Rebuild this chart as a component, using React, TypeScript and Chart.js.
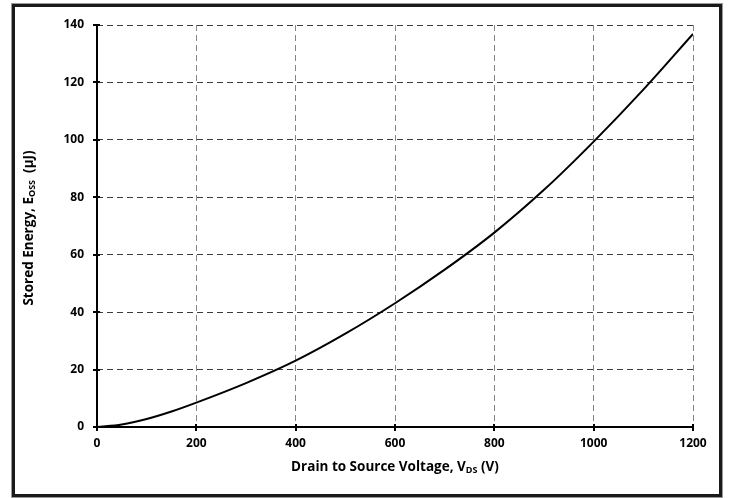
import React, { useEffect, useRef } from "react";
import { Chart, registerables } from "chart.js";

Chart.register(...registerables);

const voltages = [0, 50, 100, 150, 200, 300, 400, 500, 600, 700, 800, 900, 1000, 1100, 1200];
const energies = [0, 0.9, 2.8, 5.4, 8.5, 15.3, 23.1, 32.5, 43.1, 54.8, 67.7, 82.6, 99.4, 117.5, 136.9];
const xTickValues = [0, 200, 400, 600, 800, 1000, 1200];
const yTickValues = [0, 20, 40, 60, 80, 100, 120, 140];
const xTitleParts = ["Drain to Source Voltage, V", "DS", " (V)"];
const yTitleParts = ["Stored Energy, E", "OSS", "  (\u00b5J)"];

const FONT = "'Open Sans', Lato, sans-serif";

function drawSubTitle(ctx: CanvasRenderingContext2D, parts: string[], cx: number, cy: number, rotate: boolean) {
  ctx.save();
  ctx.translate(cx, cy);
  if (rotate) ctx.rotate(-Math.PI / 2);
  const big = `bold 13.5px ${FONT}`;
  const small = `bold 9px ${FONT}`;
  ctx.font = big;
  const w0 = ctx.measureText(parts[0]).width;
  const w2 = ctx.measureText(parts[2]).width;
  ctx.font = small;
  const w1 = ctx.measureText(parts[1]).width;
  const total = w0 + w1 + w2;
  let x = -total / 2;
  ctx.fillStyle = "#000";
  ctx.textBaseline = "middle";
  ctx.textAlign = "left";
  ctx.font = big;
  ctx.fillText(parts[0], x, 0);
  x += w0;
  ctx.font = small;
  ctx.fillText(parts[1], x, 3);
  x += w1;
  ctx.font = big;
  ctx.fillText(parts[2], x, 0);
  ctx.restore();
}

const decorPlugin = {
  id: "decor",
  beforeDraw(chart: any) {
    const ctx = chart.ctx as CanvasRenderingContext2D;
    ctx.save();
    ctx.fillStyle = "#fff";
    ctx.fillRect(0, 0, chart.width, chart.height);
    ctx.restore();
  },
  afterDraw(chart: any) {
    const ctx = chart.ctx as CanvasRenderingContext2D;
    const xs = chart.scales.x;
    const ys = chart.scales.y;
    ctx.save();
    ctx.strokeStyle = "#000";
    ctx.lineWidth = 2;
    ctx.setLineDash([]);
    ctx.beginPath();
    ctx.moveTo(xs.left, ys.top);
    ctx.lineTo(xs.left, ys.bottom);
    ctx.lineTo(xs.right, ys.bottom);
    ctx.stroke();
    for (const v of xTickValues) {
      const px = Math.round(xs.getPixelForValue(v));
      ctx.beginPath();
      ctx.moveTo(px, ys.bottom - 3);
      ctx.lineTo(px, ys.bottom + 4);
      ctx.stroke();
    }
    for (const v of yTickValues) {
      const py = Math.round(ys.getPixelForValue(v));
      ctx.beginPath();
      ctx.moveTo(xs.left - 4, py);
      ctx.lineTo(xs.left + 3, py);
      ctx.stroke();
    }
    ctx.strokeStyle = "#9a9a9a";
    ctx.lineWidth = 1;
    ctx.strokeRect(11.5, 3.5, 711, 494);
    ctx.strokeStyle = "#1a1a1a";
    ctx.lineWidth = 3;
    ctx.strokeRect(13.5, 5.5, 707, 490);
    ctx.restore();
    drawSubTitle(ctx, xTitleParts, 395, 467, false);
    drawSubTitle(ctx, yTitleParts, 29, 228, true);
  },
};

export default function App() {
  const ref = useRef<HTMLCanvasElement | null>(null);
  useEffect(() => {
    if (!ref.current) return;
    const chart = new Chart(ref.current, {
      type: "line",
      data: {
        datasets: [
          {
            data: voltages.map((v, i) => ({ x: v, y: energies[i] })),
            borderColor: "#000",
            borderWidth: 2,
            pointRadius: 0,
            fill: false,
            cubicInterpolationMode: "monotone",
          },
        ],
      },
      options: {
        responsive: false,
        animation: false,
        events: [],
        layout: { padding: { left: 0, right: 37, top: 25, bottom: 0 } },
        plugins: { legend: { display: false }, tooltip: { enabled: false } },
        scales: {
          x: {
            type: "linear",
            min: 0,
            max: 1200,
            afterFit: (s: any) => {
              s.height = 71;
            },
            afterBuildTicks: (s: any) => {
              s.ticks = xTickValues.map((v) => ({ value: v }));
            },
            ticks: {
              color: "#000",
              padding: 9,
              maxRotation: 0,
              callback: (v: any) => String(v),
              font: { family: FONT, size: 12, weight: "bold" },
            },
            grid: {
              drawTicks: false,
              color: "#858585",
              lineWidth: 1,
            },
            border: { display: false, dash: [6, 4] },
          },
          y: {
            type: "linear",
            min: 0,
            max: 140,
            afterFit: (s: any) => {
              s.width = 97;
            },
            afterBuildTicks: (s: any) => {
              s.ticks = yTickValues.map((v) => ({ value: v }));
            },
            ticks: {
              color: "#000",
              padding: 13,
              callback: (v: any) => String(v),
              font: { family: FONT, size: 12, weight: "bold" },
            },
            grid: {
              drawTicks: false,
              color: "#3c3c3c",
              lineWidth: 1,
            },
            border: { display: false, dash: [6, 4] },
          },
        },
      },
      plugins: [decorPlugin],
    } as any);
    return () => chart.destroy();
  }, []);
  return (
    <div style={{ position: "absolute", left: 0, top: 0, width: 730, height: 498 }}>
      <canvas ref={ref} width={730} height={498} style={{ display: "block" }} />
    </div>
  );
}
